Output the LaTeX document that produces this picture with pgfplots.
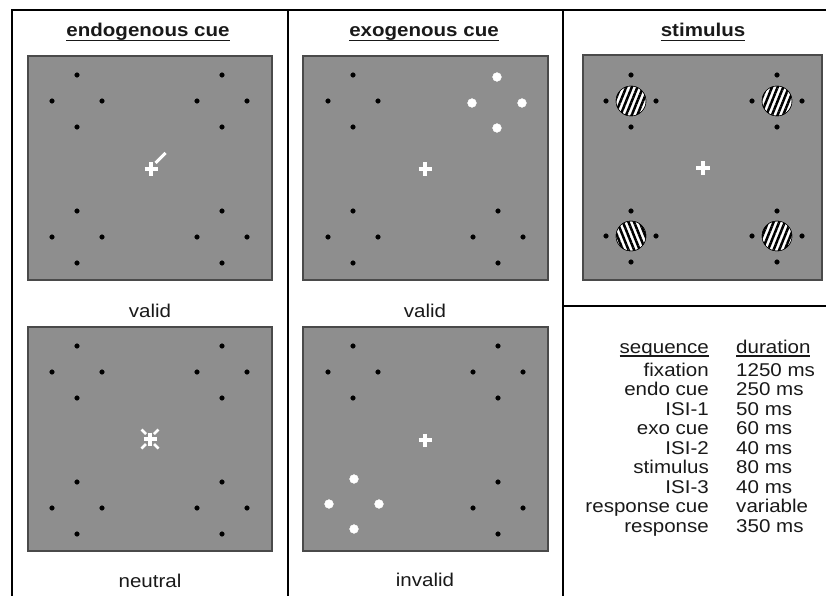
\documentclass[border=0pt]{standalone}
\usepackage{pgfplots}
\pgfplotsset{compat=1.18}
\usepackage{fontspec}
\setmainfont{Liberation Sans}
\usetikzlibrary{patterns.meta}
\definecolor{panelgray}{HTML}{8E8E8E}
\definecolor{panelborder}{HTML}{4A4A4A}
\newcommand{\myul}[2][-4.2pt]{\setbox0\hbox{#2}\rlap{\rule[#1]{\wd0}{1.4pt}}\box0}
\tikzset{t/.style={font=\fontsize{18.5}{20}\selectfont, inner sep=0pt, xscale=1.11, text=black!90}}
\begin{document}
\begin{tikzpicture}
\begin{axis}[x=1pt, y=1pt, y dir=reverse, xmin=0, xmax=826, ymin=0, ymax=596,
  hide axis, scale only axis, unbounded coords=jump]
% frame
\addplot[black, line width=2.4pt] coordinates {(12,600) (12,10) (830,10)};
\addplot[black, line width=2.4pt] coordinates {(288,10) (288,600)};
\addplot[black, line width=2.4pt] coordinates {(563,10) (563,600)};
\addplot[black, line width=2.4pt] coordinates {(563,306) (830,306)};
% panels
\addplot[fill=panelgray, draw=panelborder, line width=1.2pt] coordinates {(28,56) (272,56) (272,280) (28,280)} -- cycle;
\addplot[fill=panelgray, draw=panelborder, line width=1.2pt] coordinates {(28,327) (272,327) (272,551) (28,551)} -- cycle;
\addplot[fill=panelgray, draw=panelborder, line width=1.2pt] coordinates {(303,56) (548,56) (548,280) (303,280)} -- cycle;
\addplot[fill=panelgray, draw=panelborder, line width=1.2pt] coordinates {(303,327) (548,327) (548,551) (303,551)} -- cycle;
\addplot[fill=panelgray, draw=panelborder, line width=1.2pt] coordinates {(583,55) (822,55) (822,280) (583,280)} -- cycle;
% black placeholder dots
\addplot[only marks, mark=*, mark size=2.3, black] coordinates {
(77,75) (52,101) (102,101) (77,127)
(222,75) (197,101) (247,101) (222,127)
(77,211) (52,237) (102,237) (77,263)
(222,211) (197,237) (247,237) (222,263)
(77,346) (52,372) (102,372) (77,398)
(222,346) (197,372) (247,372) (222,398)
(77,482) (52,508) (102,508) (77,534)
(222,482) (197,508) (247,508) (222,534)
(353,75) (328,101) (378,101) (353,127)
(353,211) (328,237) (378,237) (353,263)
(498,211) (473,237) (523,237) (498,263)
(353,346) (328,372) (378,372) (353,398)
(498,346) (473,372) (523,372) (498,398)
(498,482) (473,508) (523,508) (498,534)
(631,75) (606,101) (656,101) (631,127)
(777,75) (752,101) (802,101) (777,127)
(631,211) (606,236) (656,236) (631,262)
(777,211) (752,236) (802,236) (777,262)
};
% exogenous white cues
\addplot[only marks, mark=*, mark size=4.4, white] coordinates {
(497,77) (472,103) (522,103) (497,128)
(354,479) (329,504) (379,504) (354,529)
};
% gratings
\addplot[only marks, mark=*, mark size=15, mark options={draw=none, fill=white}] coordinates {(631,101) (777,101) (631,236) (777,236)};
\addplot[only marks, mark=*, mark size=15, mark options={draw=none, pattern={Lines[angle=68,distance=5.2pt,line width=2.5pt]}, pattern color=black}] coordinates {(631,101) (777,101) (777,236)};
\addplot[only marks, mark=*, mark size=15, mark options={draw=none, pattern={Lines[angle=-68,distance=5.2pt,line width=2.5pt]}, pattern color=black}] coordinates {(631,236)};
% fixation crosses
\addplot[white, line width=3.2pt] coordinates {
(144.5,169) (157.5,169) (nan,nan) (151,162.5) (151,175.5) (nan,nan)
(418.5,169) (431.5,169) (nan,nan) (425,162.5) (425,175.5) (nan,nan)
(143.5,439) (156.5,439) (nan,nan) (150,432.5) (150,445.5) (nan,nan)
(418.5,440) (431.5,440) (nan,nan) (425,433.5) (425,446.5) (nan,nan)
(696,168) (710,168) (nan,nan) (703,161) (703,175)
};
% endogenous cues
\addplot[white, line width=3pt] coordinates {(155.5,163) (165.5,153)};
\addplot[white, line width=2.8pt] coordinates {(141.5,429.5) (146,434)};
\addplot[white, line width=2.8pt] coordinates {(158.5,429.5) (154,434)};
\addplot[white, line width=2.8pt] coordinates {(141.5,448.5) (146,444)};
\addplot[white, line width=2.8pt] coordinates {(158.5,448.5) (154,444)};
% titles
\node[t, anchor=base] at (axis cs:148,37) {\textbf{\myul{endogenous cue}}};
\node[t, anchor=base] at (axis cs:424,37) {\textbf{\myul{exogenous cue}}};
\node[t, anchor=base] at (axis cs:703,37) {\textbf{\myul{stimulus}}};
% labels
\node[t, anchor=base] at (axis cs:150,317) {valid};
\node[t, anchor=base] at (axis cs:425,317) {valid};
\node[t, anchor=base] at (axis cs:150,587) {neutral};
\node[t, anchor=base] at (axis cs:425,586) {invalid};
% table
\node[t, anchor=base east] at (axis cs:709,353) {\myul[-3.6pt]{sequence}};
\node[t, anchor=base west] at (axis cs:736,353) {\myul[-3.6pt]{duration}};
\node[t, anchor=base east] at (axis cs:709,376) {fixation};
\node[t, anchor=base west] at (axis cs:736,376) {1250 ms};
\node[t, anchor=base east] at (axis cs:709,395.5) {endo cue};
\node[t, anchor=base west] at (axis cs:736,395.5) {250 ms};
\node[t, anchor=base east] at (axis cs:709,415) {ISI-1};
\node[t, anchor=base west] at (axis cs:736,415) {50 ms};
\node[t, anchor=base east] at (axis cs:709,434.5) {exo cue};
\node[t, anchor=base west] at (axis cs:736,434.5) {60 ms};
\node[t, anchor=base east] at (axis cs:709,454) {ISI-2};
\node[t, anchor=base west] at (axis cs:736,454) {40 ms};
\node[t, anchor=base east] at (axis cs:709,473.5) {stimulus};
\node[t, anchor=base west] at (axis cs:736,473.5) {80 ms};
\node[t, anchor=base east] at (axis cs:709,493) {ISI-3};
\node[t, anchor=base west] at (axis cs:736,493) {40 ms};
\node[t, anchor=base east] at (axis cs:709,512.5) {response cue};
\node[t, anchor=base west] at (axis cs:736,512.5) {variable};
\node[t, anchor=base east] at (axis cs:709,532) {response};
\node[t, anchor=base west] at (axis cs:736,532) {350 ms};
\end{axis}
\pgfresetboundingbox
\path[use as bounding box] (current axis.south west) rectangle (current axis.north east);
\end{tikzpicture}
\end{document}
